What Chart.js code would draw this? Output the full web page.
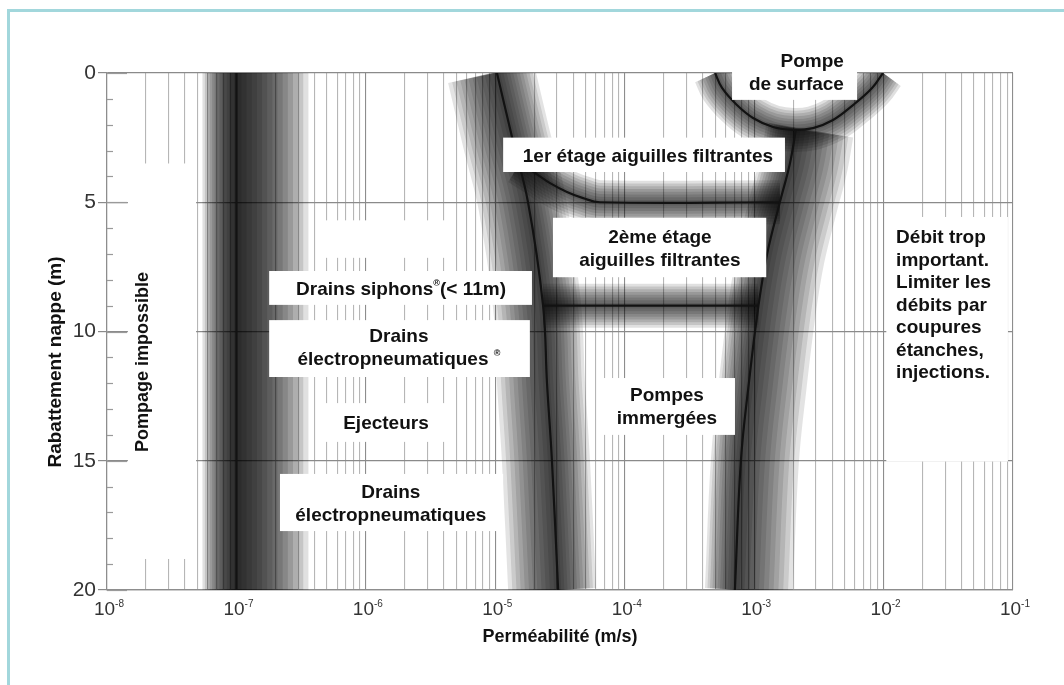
<!DOCTYPE html>
<html><head><meta charset="utf-8">
<script src="https://cdn.jsdelivr.net/npm/chart.js@4.4.0/dist/chart.umd.min.js"></script>
<style>html,body{margin:0;padding:0;background:#fff;overflow:hidden}
#wrap{position:relative;width:1064px;height:685px}</style></head>
<body><div id="wrap"><canvas id="c"></canvas></div>
<script>
// ---------------- DATA ----------------
const kMin = 1e-8, kMax = 1e-1;            // perméabilité (m/s)
const depthMin = 0, depthMax = 20;         // rabattement (m)
const decadeExponents = [-8, -7, -6, -5, -4, -3, -2, -1];
const yMajorLabels = [0, 5, 10, 15, 20];

// boundary between "pompage impossible" and drains
const limitLowK = [1e-7, 1e-7];
const limitLowDepth = [0, 20];
// left boundary of well-point / pump domain
const leftCurveK = [1.03e-5, 1.35e-5, 1.79e-5, 2.34e-5, 2.51e-5, 2.74e-5, 3.06e-5];
const leftCurveDepth = [0, 2.5, 5, 9, 12, 15, 20];
// right boundary
const rightCurveK = [2.1e-3, 1.89e-3, 1.58e-3, 1.26e-3, 1.08e-3, 9.1e-4, 7.9e-4, 7.1e-4];
const rightCurveDepth = [2.2, 3.5, 5, 7, 9, 12, 15, 20];
// surface pump bowl
const surfaceArcK = [4.99e-4, 5.65e-4, 7.36e-4, 9.8e-4, 1.4e-3, 2.0e-3, 2.85e-3, 4.07e-3, 5.81e-3, 8.15e-3, 9.9e-3];
const surfaceArcDepth = [0, 0.58, 1.24, 1.74, 2.09, 2.2, 2.13, 1.82, 1.24, 0.58, 0];
// limit of 1st stage well points
const stage1K = [1.55e-5, 2.03e-5, 2.65e-5, 3.58e-5, 4.77e-5, 6.44e-5, 1.58e-3];
const stage1Depth = [3.5, 3.87, 4.26, 4.6, 4.84, 5.0, 5.0];
// limit of 2nd stage well points
const stage2K = [2.34e-5, 1.08e-3];
const stage2Depth = [9, 9];

// ---------------- ANNOTATIONS (data-space placement) ----------------
const whiteAreas = [
  {k0: 1.45e-8, k1: 4.88e-8, d0: 3.5, d1: 18.8},
  {k0: 4.4e-7, k1: 4.6e-6, d0: 5.7, d1: 7.15},
  {k0: 1.79e-7, k1: 1.92e-5, d0: 7.66, d1: 8.97},
  {k0: 1.79e-7, k1: 1.85e-5, d0: 9.56, d1: 11.76},
  {k0: 4.4e-7, k1: 4.6e-6, d0: 12.77, d1: 14.27},
  {k0: 2.17e-7, k1: 1.15e-5, d0: 15.51, d1: 17.72},
  {k0: 6.44e-5, k1: 7.11e-4, d0: 11.8, d1: 14.0},
  {k0: 1.15e-5, k1: 1.73e-3, d0: 2.5, d1: 3.83},
  {k0: 2.79e-5, k1: 1.24e-3, d0: 5.6, d1: 7.9},
  {k0: 6.75e-4, k1: 6.24e-3, d0: -1, d1: 1.04},
  {k0: 1.05e-2, k1: 9.14e-2, d0: 5.57, d1: 15.03}
];
const textLabels = [
  {lines: ['Pompe', 'de surface'], k: 4.94e-3, d: -0.43, align: 'right'},
  {lines: ['1er étage aiguilles filtrantes'], k: 1.51e-4, d: 3.25, align: 'center'},
  {lines: ['2ème étage', 'aiguilles filtrantes'], k: 1.87e-4, d: 6.38, align: 'center'},
  {lines: ['Drains siphons{®}(< 11m)'], k: 1.87e-6, d: 8.39, align: 'center'},
  {lines: ['Drains', 'électropneumatiques {®}'], k: 1.8e-6, d: 10.21, align: 'center'},
  {lines: ['Ejecteurs'], k: 1.43e-6, d: 13.58, align: 'center'},
  {lines: ['Drains', 'électropneumatiques'], k: 1.56e-6, d: 16.25, align: 'center'},
  {lines: ['Pompes', 'immergées'], k: 2.12e-4, d: 12.5, align: 'center'},
  {lines: ['Débit trop', 'important.', 'Limiter les', 'débits par', 'coupures', 'étanches,', 'injections.'], k: 1.25e-2, d: 6.38, align: 'left'}
];
const verticalLabel = {text: 'Pompage impossible', k: 1.9e-8, d: 11.18};

// ---------------- STYLES ----------------
const FONT = '"Liberation Sans", Arial, sans-serif';
// shading halo: extent to the left / right of the line (px), number of layers, alpha per layer
const haloBand  = {l: 34, r: 72, n: 14, a: .12};
const haloLeft  = {l: 50, r: 38, n: 12, a: .11};
const haloRight = {l: 30, r: 58, n: 12, a: .11};
const haloSmall = {l: 22, r: 22, n: 8,  a: .12};

function pts(k, d) { return k.map((v, i) => ({x: v, y: d[i]})); }
const curves = [
  {k: limitLowK, d: limitLowDepth, halo: haloBand, t: 0},
  {k: leftCurveK, d: leftCurveDepth, halo: haloLeft, t: 0.4},
  {k: rightCurveK, d: rightCurveDepth, halo: haloRight, t: 0.4},
  {k: surfaceArcK, d: surfaceArcDepth, halo: haloSmall, t: 0.4},
  {k: stage1K, d: stage1Depth, halo: haloSmall, t: 0.4},
  {k: stage2K, d: stage2Depth, halo: haloSmall, t: 0}
];
const datasets = [];
curves.forEach(c => datasets.push({data: pts(c.k, c.d), borderColor: '#121212', borderWidth: 2.2,
  tension: c.t, pointRadius: 0, fill: false, order: 0}));
curves.forEach(c => {
  const h = c.halo;
  for (let i = 1; i <= h.n; i++) {
    const L = h.l * i / h.n, R = h.r * i / h.n;
    datasets.push({data: pts(c.k, c.d), borderColor: `rgba(0,0,0,${h.a})`, borderWidth: L + R,
      tension: c.t, pointRadius: 0, fill: false, order: 1, shiftX: (R - L) / 2, borderCapStyle: 'butt'});
  }
});

const isDecade = v => Math.abs(Math.log10(v) - Math.round(Math.log10(v))) < 1e-6;

function drawRich(ctx, str, x, y, align, font, supFont) {
  const parts = [];
  str.split(/(\{[^}]*\})/).forEach(p => { if (!p) return;
    if (p[0] === '{') parts.push({t: p.slice(1, -1), sup: true}); else parts.push({t: p, sup: false}); });
  let total = 0;
  parts.forEach(p => { ctx.font = p.sup ? supFont : font; p.w = ctx.measureText(p.t).width; total += p.w; });
  let sx = align === 'center' ? x - total / 2 : align === 'right' ? x - total : x;
  ctx.textAlign = 'left'; ctx.textBaseline = 'middle';
  parts.forEach(p => { ctx.font = p.sup ? supFont : font; ctx.fillText(p.t, sx, p.sup ? y - 6 : y); sx += p.w; });
}

const shiftPlugin = {
  id: 'shift',
  beforeDatasetDraw(chart, args) { const ds = chart.data.datasets[args.index];
    chart.ctx.save(); if (ds.shiftX) chart.ctx.translate(ds.shiftX, 0); },
  afterDatasetDraw(chart) { chart.ctx.restore(); }
};

const overlayPlugin = {
  id: 'overlay',
  afterDatasetsDraw(chart) {
    const {ctx, chartArea} = chart; const x = chart.scales.x, y = chart.scales.y;
    ctx.save();
    ctx.fillStyle = '#ffffff';
    whiteAreas.forEach(b => {
      const x0 = x.getPixelForValue(b.k0), x1 = x.getPixelForValue(b.k1);
      const y0 = y.getPixelForValue(b.d0), y1 = y.getPixelForValue(b.d1);
      ctx.fillRect(Math.min(x0, x1), Math.min(y0, y1), Math.abs(x1 - x0), Math.abs(y1 - y0));
    });
    ctx.strokeStyle = '#9a9a9a'; ctx.lineWidth = 1.2;
    y.ticks.forEach(t => { const py = Math.round(y.getPixelForValue(t.value)) + 0.5;
      const len = t.value % 5 === 0 ? 20 : 6;
      ctx.beginPath(); ctx.moveTo(chartArea.left, py); ctx.lineTo(chartArea.left + len, py); ctx.stroke(); });
    ctx.fillStyle = '#111';
    const font = 'bold 19px ' + FONT, sup = 'bold 9px ' + FONT, lh = 22.5;
    textLabels.forEach(l => {
      const px = x.getPixelForValue(l.k), py = y.getPixelForValue(l.d);
      l.lines.forEach((s, i) => drawRich(ctx, s, px, py + i * lh, l.align, font, sup));
    });
    ctx.save();
    ctx.translate(x.getPixelForValue(verticalLabel.k), y.getPixelForValue(verticalLabel.d));
    ctx.rotate(-Math.PI / 2);
    ctx.font = 'bold 18px ' + FONT; ctx.textAlign = 'center'; ctx.textBaseline = 'middle';
    ctx.fillText(verticalLabel.text, 0, 0);
    ctx.restore();
    ctx.restore();
  },
  afterDraw(chart) {
    const {ctx, chartArea} = chart; const x = chart.scales.x;
    ctx.save();
    ctx.fillStyle = '#333';
    decadeExponents.forEach(e => {
      const px = x.getPixelForValue(Math.pow(10, e));
      ctx.font = '19px ' + FONT; const w1 = ctx.measureText('10').width;
      const supTxt = '-' + Math.abs(e);
      ctx.font = '10px ' + FONT; const w2 = ctx.measureText(supTxt).width;
      const sx = px - (w1 + w2) / 2 + 2;
      ctx.textAlign = 'left';
      ctx.font = '19px ' + FONT; ctx.textBaseline = 'middle'; ctx.fillText('10', sx, chartArea.bottom + 20);
      ctx.font = '10px ' + FONT; ctx.textBaseline = 'top'; ctx.fillText(supTxt, sx + w1, chartArea.bottom + 9);
    });
    ctx.fillStyle = '#111';
    ctx.font = 'bold 18px ' + FONT; ctx.textAlign = 'center'; ctx.textBaseline = 'middle';
    ctx.fillText('Perméabilité (m/s)', 560, 637);
    ctx.save(); ctx.translate(56, 362); ctx.rotate(-Math.PI / 2);
    ctx.font = 'bold 19px ' + FONT; ctx.fillText('Rabattement nappe (m)', 0, 0); ctx.restore();
    // frame
    ctx.strokeStyle = '#a2d7dc'; ctx.lineWidth = 3;
    ctx.beginPath(); ctx.moveTo(8.5, 685); ctx.lineTo(8.5, 10.5); ctx.lineTo(1064, 10.5); ctx.stroke();
    ctx.restore();
  }
};

new Chart(document.getElementById('c'), {
  type: 'line',
  data: {datasets},
  plugins: [shiftPlugin, overlayPlugin],
  options: {
    responsive: true, maintainAspectRatio: false, animation: false, devicePixelRatio: 1,
    layout: {padding: {left: 0, top: 73, right: 51, bottom: 0}},
    plugins: {legend: {display: false}, tooltip: {enabled: false}},
    elements: {line: {borderJoinStyle: 'round'}},
    scales: {
      x: {
        type: 'logarithmic', min: kMin, max: kMax,
        afterBuildTicks(scale) {
          const t = [];
          decadeExponents.slice(0, -1).forEach(e => { for (let m = 1; m <= 9; m++) t.push({value: m * Math.pow(10, e)}); });
          t.push({value: Math.pow(10, decadeExponents[decadeExponents.length - 1])});
          scale.ticks = t;
        },
        afterFit(scale) { scale.height = 95; },
        ticks: {display: false, autoSkip: false},
        grid: {drawTicks: false, lineWidth: 1.1,
          color: c => (c.tick && isDecade(c.tick.value)) ? '#8d8d8d' : '#b6b6b6'},
        border: {display: true, color: '#8d8d8d', width: 1.2}
      },
      y: {
        type: 'linear', min: depthMin, max: depthMax, reverse: true,
        afterBuildTicks(scale) { const t = []; for (let v = depthMin; v <= depthMax; v++) t.push({value: v}); scale.ticks = t; },
        afterFit(scale) { scale.width = 107; },
        ticks: {autoSkip: false, padding: 2, color: '#333', font: {family: FONT, size: 21},
          callback: v => yMajorLabels.includes(v) ? String(v) : ''},
        grid: {tickLength: 9, lineWidth: 1.2,
          color: c => (c.tick && c.tick.value % 5 === 0) ? '#8a8a8a' : 'rgba(0,0,0,0)',
          tickColor: c => (c.tick && c.tick.value % 5 === 0) ? '#8a8a8a' : 'rgba(0,0,0,0)'},
        border: {display: true, color: '#8d8d8d', width: 1.2}
      }
    }
  }
});
</script></body></html>
